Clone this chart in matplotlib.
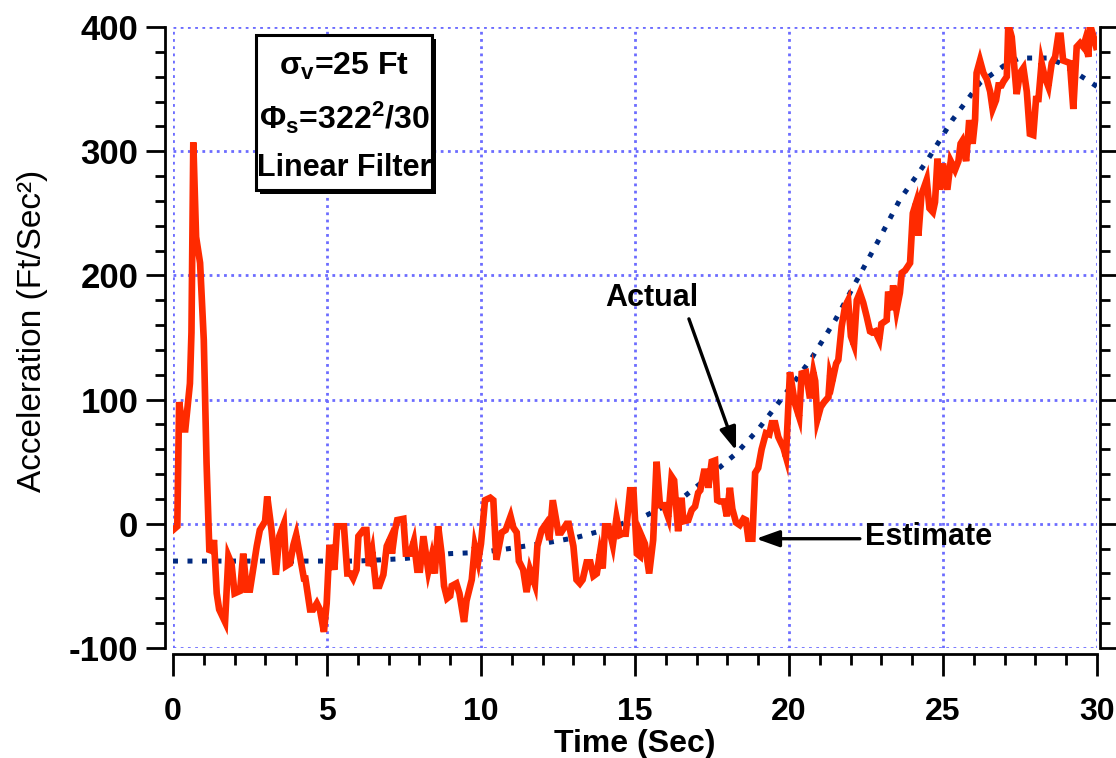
import matplotlib
matplotlib.use('Agg')
import matplotlib.pyplot as plt
from matplotlib import font_manager as fm
from matplotlib.ticker import MultipleLocator
from matplotlib.patches import Rectangle

# ---------------- data ----------------
t_actual = [0, 6.0, 7.5, 9.0, 10.0, 10.9, 12.2, 13.1, 14.0, 14.8, 15.3, 16.6, 17.4,
            18.3, 19.0, 19.8, 20.7, 21.5, 22.2, 22.9, 23.6, 24.5, 25.3, 26.2, 27.1,
            27.5, 28.4, 28.8, 29.7, 30.0]
a_actual = [-30, -30, -28, -24, -23, -20, -15, -11, -5, 2, 6, 22, 38,
            57, 76, 102, 132, 164, 196, 228, 261, 293, 325, 355, 371,
            375, 375, 371, 357, 352]

t_est = [0.0, 0.14, 0.2, 0.33, 0.4, 0.55, 0.6, 0.66, 0.75, 0.88, 1.0, 1.09, 1.18, 1.29,
         1.33, 1.42, 1.5, 1.69, 1.8, 1.9, 2.0, 2.18, 2.28, 2.39, 2.5, 2.72, 2.82, 2.99,
         3.06, 3.2, 3.34, 3.45, 3.6, 3.67, 3.8, 3.91, 4.0, 4.12, 4.25, 4.3, 4.45, 4.55,
         4.67, 4.77, 4.9, 4.99, 5.08, 5.24, 5.33, 5.45, 5.55, 5.66, 5.76, 5.85, 5.96,
         6.02, 6.18, 6.28, 6.36, 6.47, 6.59, 6.7, 6.83, 6.94, 7.05, 7.11, 7.21, 7.28,
         7.48, 7.56, 7.7, 7.82, 7.93, 8.02, 8.13, 8.29, 8.4, 8.5, 8.61, 8.72, 8.8, 8.9,
         9.0, 9.05, 9.2, 9.3, 9.45, 9.53, 9.7, 9.8, 9.91, 10.0, 10.13, 10.3, 10.4, 10.5,
         10.67, 10.8, 10.96, 11.05, 11.16, 11.23, 11.37, 11.48, 11.59, 11.75, 11.83,
         11.97, 12.11, 12.22, 12.33, 12.51, 12.6, 12.78, 12.85, 13.0, 13.1, 13.21, 13.3,
         13.43, 13.55, 13.65, 13.76, 13.86, 13.95, 14.03, 14.14, 14.28, 14.4, 14.51,
         14.6, 14.7, 14.84, 14.95, 15.06, 15.16, 15.2, 15.32, 15.46, 15.59, 15.7, 15.81,
         15.94, 16.08, 16.19, 16.27, 16.4, 16.51, 16.57, 16.73, 16.84, 16.95, 17.05,
         17.12, 17.24, 17.32, 17.38, 17.49, 17.6, 17.67, 17.75, 17.89, 17.98, 18.08,
         18.16, 18.28, 18.4, 18.52, 18.6, 18.68, 18.81, 18.9, 19.0, 19.11, 19.25, 19.36,
         19.44, 19.55, 19.65, 19.82, 19.9, 20.03, 20.19, 20.33, 20.41, 20.55, 20.68,
         20.79, 20.85, 20.92, 21.03, 21.14, 21.28, 21.33, 21.4, 21.53, 21.6, 21.71,
         21.82, 21.92, 22.01, 22.11, 22.2, 22.3, 22.41, 22.52, 22.63, 22.7, 22.8, 22.93,
         23.0, 23.17, 23.22, 23.33, 23.38, 23.49, 23.6, 23.66, 23.77, 23.93, 24.02,
         24.12, 24.2, 24.3, 24.47, 24.56, 24.67, 24.74, 24.82, 24.9, 25.0, 25.14, 25.25,
         25.39, 25.5, 25.57, 25.62, 25.75, 25.85, 25.96, 26.04, 26.09, 26.2, 26.31,
         26.42, 26.53, 26.61, 26.72, 26.8, 26.9, 26.96, 27.07, 27.12, 27.23, 27.39,
         27.5, 27.61, 27.72, 27.82, 27.93, 28.02, 28.1, 28.2, 28.3, 28.42, 28.53, 28.64,
         28.74, 28.82, 28.9, 29.01, 29.12, 29.23, 29.34, 29.45, 29.55, 29.61, 29.72,
         29.77, 29.9, 29.97]
a_est = [-5, -2, 98, 76, 76, 113, 154, 307, 231, 210, 148, 49, -21, -22,
         -13, -56, -69, -79, -26, -32, -56, -54, -24, -53, -53, -18, -5, 2,
         22, -5, -41, -10, 0, -34, -32, -17, -9, -26, -44, -44, -69, -69,
         -64, -69, -87, -64, -17, -37, -2, -2, -2, -40, -40, -44, -37,
         -10, -5, -5, -34, -22, -50, -50, -41, -18, -12, -24, -5, 3,
         4, -24, -24, -14, -37, -37, -10, -38, -26, -40, -2, -24, -50, -60,
         -58, -50, -48, -56, -79, -62, -45, -18, -30, -16, 19, 21, 19, -29,
         -7, -5, 6, -3, -7, -30, -37, -55, -37, -49, -18,
         -5, 0, -13, 19, -7, -7, 0, 0, -18, -45, -48, -45,
         -31, -31, -42, -40, -24, -36, -2, -2, -17, 5, -9,
         -8, -8, 27, 27, -24, -26, -9, -16, -40, -13, 50, 15,
         15, 5, 38, 35, -6, 21, 2, 3, 11, 14, 25,
         27, 42, 42, 29, 50, 51, 19, 18, 18, 6, 29,
         12, 1, -1, 4, 3, -12, -12, 41, 45, 60, 73, 72,
         81, 81, 70, 61, 54, 122, 97, 86, 121, 122, 101,
         122, 115, 84, 94, 98, 102, 120, 114, 129, 132, 159,
         175, 180, 151, 144, 180, 186, 178, 167, 155, 154, 155, 148,
         161, 164, 187, 172, 192, 172, 186, 202, 204, 210, 250,
         258, 232, 265, 277, 254, 251, 259, 294, 269, 290, 269, 292,
         285, 292, 306, 308, 292, 325, 306, 325, 363, 373, 363,
         358, 348, 334, 341, 353, 353, 356, 360, 402, 392, 346,
         363, 367, 348, 314, 313, 342, 342, 371, 360, 352, 371, 376,
         393, 393, 373, 372, 371, 334, 384, 387, 384, 389, 376,
         402, 391, 384]

x_ticks = [0, 5, 10, 15, 20, 25, 30]
y_ticks = [-100, 0, 100, 200, 300, 400]

# ---------------- fonts ----------------
names = {f.name for f in fm.fontManager.ttflist}
BASE = 'Liberation Sans'
NARROW = 'Liberation Sans Narrow' if 'Liberation Sans Narrow' in names else BASE
plt.rcParams['font.family'] = [BASE, 'DejaVu Sans']
plt.rcParams['axes.unicode_minus'] = False
plt.rcParams['mathtext.fontset'] = 'custom'
plt.rcParams['mathtext.rm'] = 'Liberation Sans:bold'
plt.rcParams['mathtext.it'] = 'Liberation Sans:bold'
plt.rcParams['mathtext.bf'] = 'Liberation Sans:bold'

fig = plt.figure(figsize=(11.16, 7.58), dpi=100)
ax = fig.add_axes([0.155, 0.1451, 0.828, 0.8193])

GRID = '#6c6cff'
ax.set_xlim(0, 30)
ax.set_ylim(-100, 400)
ax.set_xticks(x_ticks)
ax.set_yticks(y_ticks)
ax.xaxis.set_minor_locator(MultipleLocator(1))
ax.yaxis.set_minor_locator(MultipleLocator(20))
ax.grid(True, which='major', color=GRID, linestyle=(0, (1, 1.6)), linewidth=2.0)
ax.set_axisbelow(True)

ax.plot(t_actual, a_actual, color='#00297f', lw=3.6, linestyle=(0, (1, 1.9)),
        dash_capstyle='butt', zorder=3)
ax.plot(t_est, a_est, color='#ff2a00', lw=4.8, zorder=4, solid_joinstyle='miter')

ax.spines['top'].set_visible(False)
ax.spines['left'].set_position(('outward', 6))
ax.spines['bottom'].set_position(('outward', 4))
ax.spines['right'].set_position(('outward', 2))
for s in ['left', 'bottom', 'right']:
    ax.spines[s].set_linewidth(2.0)

ax.tick_params(axis='y', which='major', direction='out', length=14, width=2,
               left=True, right=True, labelright=False, pad=5)
ax.tick_params(axis='y', which='minor', direction='out', length=7.5, width=2,
               left=True, right=True)
ax.tick_params(axis='x', which='major', direction='out', length=16, width=2, pad=15)
ax.tick_params(axis='x', which='minor', direction='out', length=8, width=2)

for lab in ax.get_yticklabels():
    lab.set_fontfamily(BASE)
    lab.set_fontweight('bold')
    lab.set_fontsize(25)
for lab in ax.get_xticklabels():
    lab.set_fontfamily(NARROW)
    lab.set_fontweight('bold')
    lab.set_fontsize(23)

ax.set_xlabel('Time (Sec)', fontfamily=NARROW, fontweight='bold', fontsize=23)
ax.xaxis.set_label_coords(0.5, -0.13)
ax.set_ylabel('Acceleration (Ft/Sec²)', fontfamily=NARROW, fontsize=24)
ax.yaxis.set_label_coords(-0.135, 0.51)

# annotations
arrow_kw = dict(arrowstyle='-|>,head_length=0.7,head_width=0.25', color='black',
                lw=2.4, mutation_scale=20, shrinkA=0, shrinkB=0)
ax.annotate('', xy=(18.28, 59), xytext=(16.75, 165), arrowprops=arrow_kw, zorder=6)
ax.text(15.55, 182, 'Actual', ha='center', va='center', fontsize=22,
        fontweight='bold', zorder=6)
ax.annotate('', xy=(18.93, -12), xytext=(22.3, -12), arrowprops=arrow_kw, zorder=6)
ax.text(22.47, -11, 'Estimate', ha='left', va='center', fontsize=22,
        fontweight='bold', zorder=6)

# text box with shadow
W, H = 1116.0, 758.0
bx0, bx1, by0, by1 = 256, 432, 35, 190
shadow = Rectangle(((bx0 + 4) / W, 1 - (by1 + 4) / H), (bx1 - bx0) / W, (by1 - by0) / H,
                   transform=fig.transFigure, facecolor='black', edgecolor='black',
                   lw=0, zorder=20, clip_on=False)
box = Rectangle((bx0 / W, 1 - by1 / H), (bx1 - bx0) / W, (by1 - by0) / H,
                transform=fig.transFigure, facecolor='white', edgecolor='black',
                lw=2.2, zorder=21, clip_on=False)
fig.add_artist(shadow)
fig.add_artist(box)
cx = 344 / W
fig.text(cx, 1 - 75 / H, r'$\sigma_v$=25 Ft', ha='center', va='baseline',
         fontsize=23, fontweight='bold', zorder=22)
fig.text(cx, 1 - 129 / H, r'$\Phi_s$=322$^2$/30', ha='center', va='baseline',
         fontsize=23, fontweight='bold', zorder=22)
fig.text(cx, 1 - 176 / H, 'Linear Filter', ha='center', va='baseline',
         fontsize=22, fontweight='bold', zorder=22)

fig.savefig('out.png', dpi=100)
